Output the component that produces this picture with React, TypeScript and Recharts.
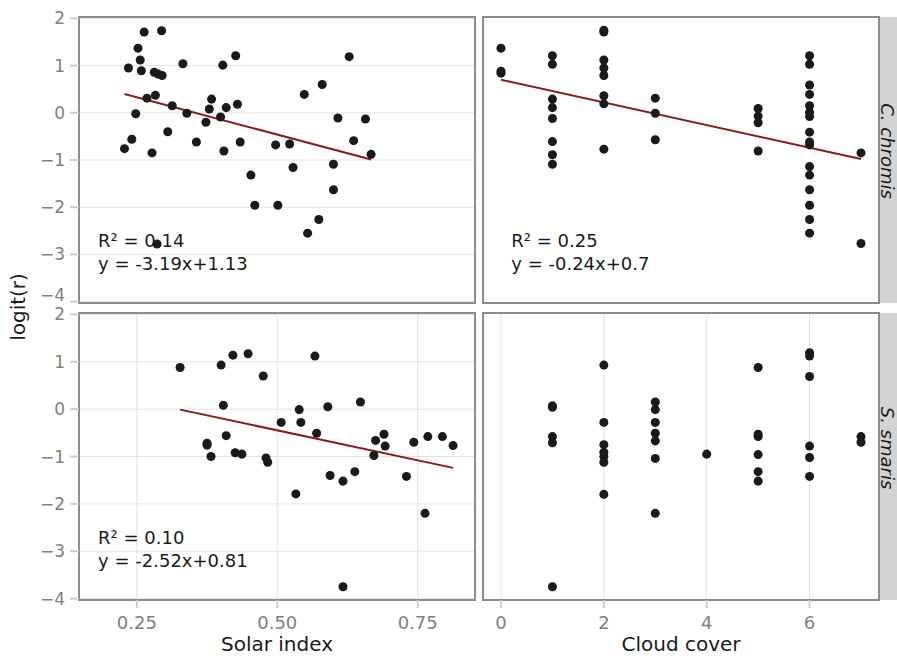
import React from "react";
import {
  ScatterChart,
  Scatter,
  XAxis,
  YAxis,
  CartesianGrid,
  ReferenceLine,
  ReferenceArea,
  ReferenceDot,
} from "recharts";

// [solar index | cloud cover, logit(r)]
const chromisSolar: [number, number][] = [
  [0.263, 1.71], [0.294, 1.74], [0.252, 1.37], [0.256, 1.12], [0.235, 0.95],
  [0.258, 0.89], [0.281, 0.86], [0.288, 0.82], [0.295, 0.79], [0.332, 1.04],
  [0.403, 1.01], [0.426, 1.21], [0.628, 1.19], [0.58, 0.6], [0.548, 0.39],
  [0.268, 0.31], [0.283, 0.37], [0.313, 0.15], [0.248, -0.02], [0.339, -0.01],
  [0.383, 0.29], [0.379, 0.08], [0.409, 0.11], [0.429, 0.18], [0.399, -0.09],
  [0.373, -0.2], [0.305, -0.4], [0.241, -0.56], [0.228, -0.76], [0.277, -0.85],
  [0.356, -0.62], [0.405, -0.81], [0.434, -0.62], [0.497, -0.68], [0.522, -0.66],
  [0.608, -0.11], [0.657, -0.13], [0.636, -0.59], [0.667, -0.88], [0.528, -1.16],
  [0.6, -1.09], [0.453, -1.32], [0.6, -1.63], [0.46, -1.96], [0.501, -1.96],
  [0.574, -2.26], [0.554, -2.55], [0.286, -2.78],
];

const chromisCloud: [number, number][] = [
  [0, 1.37], [0, 0.88], [0, 0.84],
  [1, 1.21], [1, 1.03], [1, 0.29], [1, 0.11], [1, -0.12], [1, -0.61], [1, -0.89], [1, -1.09],
  [2, 1.75], [2, 1.71], [2, 1.12], [2, 0.95], [2, 0.79], [2, 0.36], [2, 0.19], [2, -0.77],
  [3, 0.31], [3, -0.01], [3, -0.57],
  [5, 0.09], [5, -0.07], [5, -0.21], [5, -0.81],
  [6, 1.21], [6, 1.03], [6, 0.59], [6, 0.39], [6, 0.15], [6, 0.01], [6, -0.08], [6, -0.41],
  [6, -0.62], [6, -0.68], [6, -1.14], [6, -1.32], [6, -1.63], [6, -1.96], [6, -2.26], [6, -2.55],
  [7, -0.85], [7, -2.77],
];

const smarisSolar: [number, number][] = [
  [0.327, 0.88], [0.4, 0.93], [0.421, 1.14], [0.448, 1.17], [0.475, 0.7],
  [0.567, 1.12], [0.404, 0.08], [0.409, -0.56], [0.375, -0.72], [0.375, -0.76],
  [0.382, -1.0], [0.425, -0.92], [0.437, -0.95], [0.48, -1.03], [0.483, -1.12],
  [0.507, -0.28], [0.539, -0.01], [0.542, -0.28], [0.57, -0.51], [0.59, 0.05],
  [0.648, 0.15], [0.533, -1.79], [0.594, -1.4], [0.617, -1.52], [0.638, -1.32],
  [0.675, -0.66], [0.69, -0.53], [0.692, -0.78], [0.672, -0.98], [0.743, -0.7],
  [0.73, -1.42], [0.768, -0.58], [0.794, -0.58], [0.813, -0.77], [0.763, -2.2],
  [0.617, -3.75],
];

const smarisCloud: [number, number][] = [
  [1, 0.07], [1, 0.04], [1, -0.58], [1, -0.71], [1, -3.75],
  [2, 0.93], [2, -0.28], [2, -0.75], [2, -0.91], [2, -1.0], [2, -1.12], [2, -1.8],
  [3, 0.15], [3, -0.01], [3, -0.28], [3, -0.51], [3, -0.67], [3, -1.04], [3, -2.2],
  [4, -0.95],
  [5, 0.88], [5, -0.53], [5, -0.58], [5, -0.96], [5, -1.32], [5, -1.52],
  [6, 1.19], [6, 1.12], [6, 0.69], [6, -0.78], [6, -1.02], [6, -1.42],
  [7, -0.58], [7, -0.7],
];

// fitted line end points
const chromisSolarFit: [number, number][] = [[0.228, 0.4], [0.667, -0.99]];
const chromisCloudFit: [number, number][] = [[0, 0.7], [7, -0.98]];
const smarisSolarFit: [number, number][] = [[0.327, -0.01], [0.813, -1.24]];

const chromisSolarText = ["R\u00b2 = 0.14", "y = -3.19x+1.13"];
const chromisCloudText = ["R\u00b2 = 0.25", "y = -0.24x+0.7"];
const smarisSolarText = ["R\u00b2 = 0.10", "y = -2.52x+0.81"];

const yTicks = [-4, -3, -2, -1, 0, 1, 2];
const solarTicks = [0.25, 0.5, 0.75];
const cloudTicks = [0, 2, 4, 6];

const Y_DOMAIN: [number, number] = [-4.03, 2.03];
const SOLAR_DOMAIN: [number, number] = [0.147, 0.852];
const CLOUD_DOMAIN: [number, number] = [-0.35, 7.35];

const TICK_FILL = "#7f7f7f";
const TICK_LINE = { stroke: "#cccccc", strokeWidth: 2 };
const FONT = "'DejaVu Sans', Verdana, sans-serif";

const fmtY = (v: number) => (v < 0 ? "\u2212" + Math.abs(v) : String(v));

const toPts = (arr: [number, number][]) => arr.map(([x, y]) => ({ x, y }));

// y tick label; the bottom label of the upper panels sits a bit higher
function YTick({ x, y, payload, lift }: any) {
  const dy = lift && payload.value === yTicks[0] ? -7 : 0;
  return (
    <text
      x={x}
      y={y + dy}
      dy="0.355em"
      textAnchor="end"
      fontSize={17}
      fill={TICK_FILL}
      fontFamily={FONT}
    >
      {fmtY(payload.value)}
    </text>
  );
}

function AnnText({ viewBox, lines }: any) {
  const x = viewBox?.x ?? 0;
  const y = viewBox?.y ?? 0;
  return (
    <text x={x} y={y} fontSize={18} fill="#1a1a1a" fontFamily={FONT}>
      {lines.map((l: string, i: number) => (
        <tspan key={i} x={x} dy={i === 0 ? 0 : 23}>
          {l}
        </tspan>
      ))}
    </text>
  );
}

interface PanelProps {
  data: [number, number][];
  fit?: [number, number][];
  text?: string[];
  textX: number;
  xDomain: [number, number];
  xTicks: number[];
  xFmt: (v: number) => string;
  xLabel?: string;
  showY: boolean;
  left: number;
  top: number;
  width: number;
  height: number;
  marginTop: number;
  marginBottom: number;
}

function Panel(p: PanelProps) {
  const showX = !!p.xLabel;
  const lift = !showX;
  return (
    <div style={{ position: "absolute", left: p.left, top: p.top }}>
      <ScatterChart
        width={p.width}
        height={p.height}
        margin={{ top: p.marginTop, right: 1, bottom: p.marginBottom, left: 0 }}
      >
        <CartesianGrid stroke="#e3e3e3" strokeWidth={1} />
        <XAxis
          type="number"
          dataKey="x"
          domain={p.xDomain}
          ticks={p.xTicks}
          interval={0}
          allowDataOverflow
          tickFormatter={p.xFmt}
          height={showX ? 59 : 0}
          tick={showX ? { fill: TICK_FILL, fontSize: 18 } : false}
          tickLine={showX ? TICK_LINE : false}
          tickSize={8}
          tickMargin={8}
          axisLine={false}
          label={
            showX
              ? {
                  value: p.xLabel,
                  position: "insideBottom",
                  offset: 8,
                  fill: "#1a1a1a",
                  fontSize: 20,
                }
              : undefined
          }
        />
        <YAxis
          type="number"
          dataKey="y"
          domain={Y_DOMAIN}
          ticks={yTicks}
          interval={0}
          allowDataOverflow
          width={p.showY ? 79 : 0}
          tick={p.showY ? (tp: any) => <YTick {...tp} lift={lift} /> : false}
          tickLine={p.showY ? TICK_LINE : false}
          tickSize={9}
          tickMargin={5}
          axisLine={false}
        />
        <ReferenceArea
          x1={p.xDomain[0]}
          x2={p.xDomain[1]}
          y1={Y_DOMAIN[0]}
          y2={Y_DOMAIN[1]}
          fill="none"
          fillOpacity={0}
          stroke="#8c8c8c"
          strokeWidth={2}
          ifOverflow="visible"
        />
        {p.fit && (
          <ReferenceLine
            segment={toPts(p.fit)}
            stroke="#8b1a1a"
            strokeWidth={2}
            ifOverflow="visible"
          />
        )}
        <Scatter
          data={toPts(p.data)}
          fill="#1a1a1a"
          isAnimationActive={false}
        />
        {p.text && (
          <ReferenceDot
            x={p.textX}
            y={-2.845}
            r={0}
            fill="none"
            stroke="none"
            ifOverflow="visible"
            label={(lp: any) => <AnnText {...lp} lines={p.text} />}
          />
        )}
      </ScatterChart>
    </div>
  );
}

export default function App() {
  const solarFmt = (v: number) => v.toFixed(2);
  const cloudFmt = (v: number) => String(v);
  return (
    <div
      style={{
        position: "relative",
        width: 897,
        height: 659,
        fontFamily: FONT,
        background: "#ffffff",
        overflow: "hidden",
      }}
    >
      <style>{"body{margin:0} .recharts-surface{overflow:visible}"}</style>
      <Panel
        data={chromisSolar}
        fit={chromisSolarFit}
        text={chromisSolarText}
        textX={0.181}
        xDomain={SOLAR_DOMAIN}
        xTicks={solarTicks}
        xFmt={solarFmt}
        showY
        left={0}
        top={0}
        width={476}
        height={310}
        marginTop={17}
        marginBottom={7}
      />
      <Panel
        data={chromisCloud}
        fit={chromisCloudFit}
        text={chromisCloudText}
        textX={0.2}
        xDomain={CLOUD_DOMAIN}
        xTicks={cloudTicks}
        xFmt={cloudFmt}
        showY={false}
        left={483}
        top={0}
        width={397}
        height={310}
        marginTop={17}
        marginBottom={7}
      />
      <Panel
        data={smarisSolar}
        fit={smarisSolarFit}
        text={smarisSolarText}
        textX={0.181}
        xDomain={SOLAR_DOMAIN}
        xTicks={solarTicks}
        xFmt={solarFmt}
        xLabel="Solar index"
        showY
        left={0}
        top={313}
        width={476}
        height={346}
        marginTop={0}
        marginBottom={0}
      />
      <Panel
        data={smarisCloud}
        textX={0.2}
        xDomain={CLOUD_DOMAIN}
        xTicks={cloudTicks}
        xFmt={cloudFmt}
        xLabel="Cloud cover"
        showY={false}
        left={483}
        top={313}
        width={397}
        height={346}
        marginTop={0}
        marginBottom={0}
      />
      <svg
        width={897}
        height={659}
        style={{ position: "absolute", left: 0, top: 0, pointerEvents: "none" }}
      >
        <text
          x={25}
          y={307}
          transform="rotate(-90 25 307)"
          textAnchor="middle"
          fontSize={20}
          fill="#1a1a1a"
          fontFamily={FONT}
        >
          logit(r)
        </text>
        <rect x={880} y={17} width={20} height={286} fill="#d3d3d3" />
        <rect x={880} y={313} width={20} height={287} fill="#d3d3d3" />
        <text
          x={881}
          y={151}
          transform="rotate(90 881 151)"
          textAnchor="middle"
          fontSize={18}
          fontStyle="italic"
          fill="#1a1a1a"
          fontFamily={FONT}
        >
          C. chromis
        </text>
        <text
          x={881}
          y={448}
          transform="rotate(90 881 448)"
          textAnchor="middle"
          fontSize={18}
          fontStyle="italic"
          fill="#1a1a1a"
          fontFamily={FONT}
        >
          S. smaris
        </text>
      </svg>
    </div>
  );
}
